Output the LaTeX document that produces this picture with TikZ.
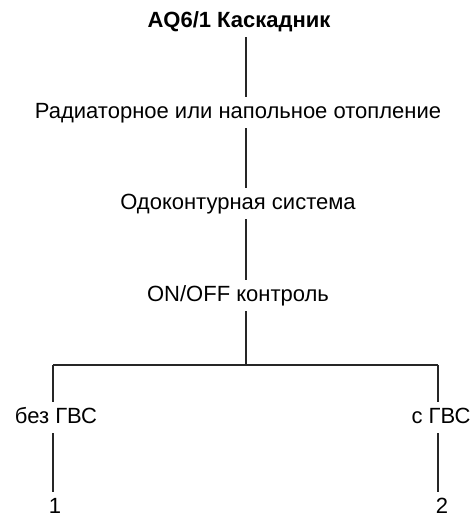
\documentclass[tikz,border=0pt]{standalone}
\usepackage{fontspec}
\setmainfont{Liberation Sans}
\begin{document}
\begin{tikzpicture}[x=1pt,y=-1pt,
    lbl/.style={anchor=base, font=\fontsize{22}{26}\selectfont, text height=16pt, text depth=5pt, inner xsep=2pt, inner ysep=5pt},
    leaf/.style={lbl, text height=19pt, text depth=0pt, inner ysep=2pt},
    link/.style={line width=1.6pt, draw=black!85}]
  \useasboundingbox (0,0) rectangle (476,517);
  \draw
    (239,27) node[lbl, font=\fontsize{22}{26}\selectfont\bfseries] (title){AQ6/1 Каскадник}
    (238,118) node[lbl] (heat){Радиаторное или напольное отопление}
    (238,209) node[lbl] (loop){Одоконтурная система}
    (238,301) node[lbl] (ctrl){ON/OFF контроль}
    (56,423) node[lbl] (nodhw){без ГВС}
    (441,423) node[lbl] (dhw){с ГВС}
    (55,513) node[leaf] (one){1}
    (442,513) node[leaf] (two){2};
  \coordinate (spine) at (246,365);
  \coordinate (left) at (53,365);
  \coordinate (right) at (438,365);
  \begin{scope}[link]
    \draw (title.south -| spine) to (heat.north -| spine);
    \draw (heat.south -| spine) to (loop.north -| spine);
    \draw (loop.south -| spine) to (ctrl.north -| spine);
    \draw (ctrl.south -| spine) to (spine);
    \draw (left) to (right);
    \draw (left) to (nodhw.north -| left);
    \draw (nodhw.south -| left) to (one.north -| left);
    \draw (right) to (dhw.north -| right);
    \draw (dhw.south -| right) to (two.north -| right);
  \end{scope}
\end{tikzpicture}
\end{document}
